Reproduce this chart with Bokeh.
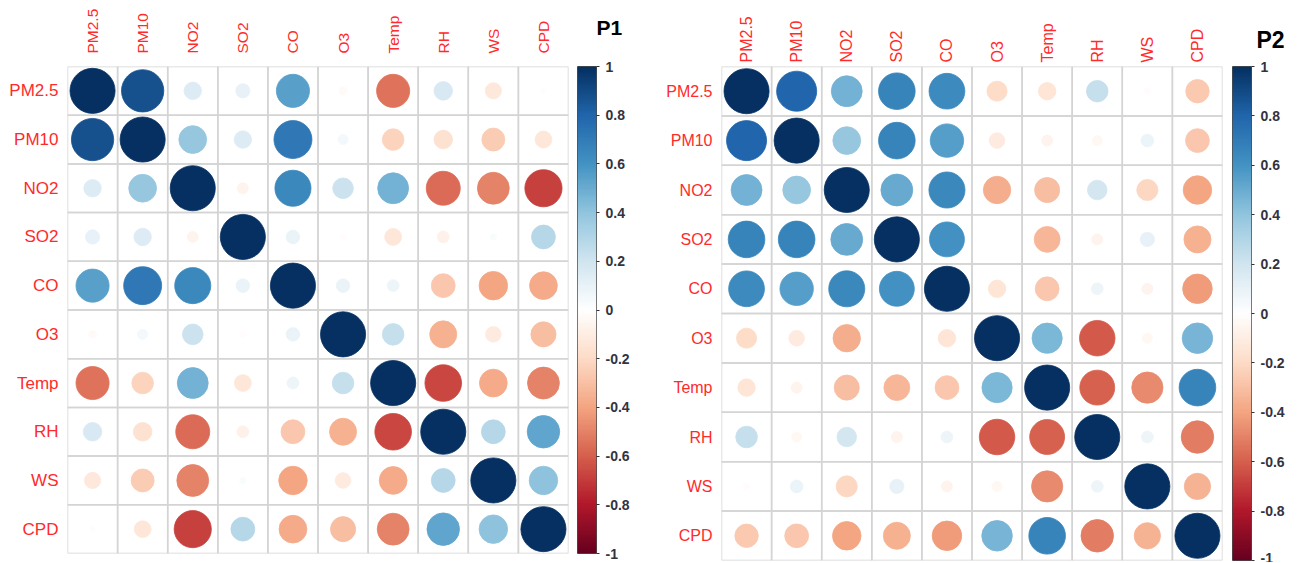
import numpy as np
from bokeh.plotting import figure
from bokeh.layouts import row
from bokeh.models import (FactorRange, Range1d, LinearColorMapper, FixedTicker,
                          CustomJSTickFormatter, ColumnDataSource)
from bokeh.embed import file_html
from bokeh.resources import INLINE

variables = ["PM2.5", "PM10", "NO2", "SO2", "CO", "O3", "Temp", "RH", "WS", "CPD"]

# ---- P1 correlation rows ----
p1_pm25 = [1.00, 0.88, 0.15, 0.10, 0.54, -0.03, -0.54, 0.17, -0.13, 0.01]
p1_pm10 = [0.88, 1.00, 0.38, 0.15, 0.71, 0.05, -0.23, -0.17, -0.26, -0.14]
p1_no2 = [0.15, 0.38, 1.00, -0.06, 0.64, 0.21, 0.47, -0.57, -0.50, -0.68]
p1_so2 = [0.10, 0.15, -0.06, 1.00, 0.09, -0.02, -0.14, -0.07, 0.02, 0.28]
p1_co = [0.54, 0.71, 0.64, 0.09, 1.00, 0.09, 0.07, -0.28, -0.40, -0.38]
p1_o3 = [-0.03, 0.05, 0.21, -0.02, 0.09, 1.00, 0.23, -0.36, -0.12, -0.31]
p1_temp = [-0.54, -0.23, 0.47, -0.14, 0.07, 0.23, 1.00, -0.66, -0.38, -0.50]
p1_rh = [0.17, -0.17, -0.57, -0.07, -0.28, -0.36, -0.66, 1.00, 0.28, 0.52]
p1_ws = [-0.13, -0.26, -0.50, 0.02, -0.40, -0.12, -0.38, 0.28, 1.00, 0.40]
p1_cpd = [0.01, -0.14, -0.68, 0.28, -0.38, -0.31, -0.50, 0.52, 0.40, 1.00]

# ---- P2 correlation rows ----
p2_pm25 = [1.00, 0.79, 0.47, 0.66, 0.63, -0.20, -0.15, 0.23, -0.02, -0.27]
p2_pm10 = [0.79, 1.00, 0.38, 0.66, 0.55, -0.12, -0.06, -0.05, 0.08, -0.28]
p2_no2 = [0.47, 0.38, 1.00, 0.50, 0.64, -0.37, -0.31, 0.19, -0.22, -0.40]
p2_so2 = [0.66, 0.66, 0.50, 1.00, 0.60, 0.00, -0.33, -0.06, 0.10, -0.36]
p2_co = [0.63, 0.55, 0.64, 0.60, 1.00, -0.15, -0.28, 0.07, -0.06, -0.43]
p2_o3 = [-0.20, -0.12, -0.37, 0.00, -0.15, 1.00, 0.45, -0.62, -0.05, 0.46]
p2_temp = [-0.15, -0.06, -0.31, -0.33, -0.28, 0.45, 1.00, -0.60, -0.48, 0.66]
p2_rh = [0.23, -0.05, 0.19, -0.06, 0.07, -0.62, -0.60, 1.00, 0.07, -0.52]
p2_ws = [-0.02, 0.08, -0.22, 0.10, -0.06, -0.05, -0.48, 0.07, 1.00, -0.34]
p2_cpd = [-0.27, -0.28, -0.40, -0.36, -0.43, 0.46, 0.66, -0.52, -0.34, 1.00]

bar_ticks = [-1, -0.8, -0.6, -0.4, -0.2, 0, 0.2, 0.4, 0.6, 0.8, 1]

rdbu_anchors = ["#67001F", "#B2182B", "#D6604D", "#F4A582", "#FDDBC7", "#FFFFFF",
                "#D1E5F0", "#92C5DE", "#4393C3", "#2166AC", "#053061"]


def ramp(anchors, n):
    rgb = np.array([[int(c[i:i + 2], 16) for i in (1, 3, 5)] for c in anchors], float)
    pos = np.linspace(0, 1, len(anchors))
    out = []
    for v in np.linspace(0, 1, n):
        ch = [int(round(np.interp(v, pos, rgb[:, k]))) for k in range(3)]
        out.append("#%02x%02x%02x" % tuple(ch))
    return out


palette = ramp(rdbu_anchors, 200)
FONT = "Liberation Sans"
LABEL_RED = "#FF2A2A"
TOP = 66


def matrix_plot(rows, fh, bl, bb, br, row_fs, col_fs, col_standoff):
    xs, ys, rs = [], [], []
    for rname, vals in zip(variables, rows):
        for cname, v in zip(variables, vals):
            xs.append(cname); ys.append(rname); rs.append(v)
    rs_arr = np.array(rs)
    src = ColumnDataSource(dict(x=xs, y=ys, r=rs, rad=list(0.45 * np.sqrt(np.abs(rs_arr)))))
    mapper = LinearColorMapper(palette=palette, low=-1, high=1)

    p = figure(x_range=FactorRange(*variables), y_range=FactorRange(*reversed(variables)),
               x_axis_location="above", frame_width=501, frame_height=fh,
               output_backend="svg", toolbar_location=None,
               min_border_left=bl, min_border_top=TOP, min_border_bottom=bb, min_border_right=br)
    p.outline_line_color = None
    p.xgrid.grid_line_color = None
    p.ygrid.grid_line_color = None
    for ax, fs, so in ((p.xaxis, col_fs, col_standoff), (p.yaxis, row_fs, 9)):
        ax.axis_line_color = None
        ax.major_tick_line_color = None
        ax.minor_tick_line_color = None
        ax.major_tick_out = 0
        ax.major_tick_in = 0
        ax.minor_tick_out = 0
        ax.minor_tick_in = 0
        ax.major_label_text_color = LABEL_RED
        ax.major_label_text_font = FONT
        ax.major_label_text_font_size = fs
        ax.major_label_standoff = so
    p.xaxis.major_label_orientation = "vertical"

    p.rect(x="x", y="y", width=1, height=1, fill_color=None, line_color="#D4D4D4",
           line_width=1.5, source=src)
    p.circle(x="x", y="y", radius="rad", source=src,
             fill_color={"field": "r", "transform": mapper},
             line_color={"field": "r", "transform": mapper}, line_width=0.8)
    return p


def colorbar_plot(title, fh, bb, br, title_fs, title_offset, title_standoff):
    mapper = LinearColorMapper(palette=palette, low=-1, high=1)
    c = figure(x_range=Range1d(0, 1), y_range=Range1d(-1, 1),
               frame_width=19, frame_height=fh, title=title,
               x_axis_location=None, y_axis_location="right",
               output_backend="svg", toolbar_location=None,
               min_border_left=0, min_border_top=TOP, min_border_bottom=bb, min_border_right=br)
    grad = np.linspace(-1, 1, 200).reshape(200, 1)
    c.image(image=[grad], x=0, y=-1, dw=1, dh=2, color_mapper=mapper)
    c.xgrid.grid_line_color = None
    c.ygrid.grid_line_color = None
    c.outline_line_color = "#4D4D4D"
    c.outline_line_width = 1
    ax = c.yaxis[0]
    ax.ticker = FixedTicker(ticks=bar_ticks)
    ax.formatter = CustomJSTickFormatter(code="return (Math.round(tick*10)/10).toString();")
    ax.axis_line_color = None
    ax.major_tick_in = 0
    ax.major_tick_out = 3
    ax.major_tick_line_color = "#333333"
    ax.minor_tick_line_color = None
    ax.minor_tick_in = 0
    ax.minor_tick_out = 0
    ax.major_label_standoff = 6
    ax.major_label_text_font = FONT
    ax.major_label_text_font_size = "14px"
    ax.major_label_text_font_style = "bold"
    ax.major_label_text_color = "#333340"
    c.title.text_font = FONT
    c.title.text_font_size = title_fs
    c.title.text_font_style = "bold"
    c.title.text_color = "black"
    c.title.align = "left"
    c.title.vertical_align = "bottom"
    c.title.offset = title_offset
    c.title.standoff = title_standoff
    return c


p1 = matrix_plot([p1_pm25, p1_pm10, p1_no2, p1_so2, p1_co, p1_o3, p1_temp, p1_rh, p1_ws, p1_cpd],
                 487, 67, 8, 9, "17px", "15.5px", 13)
c1 = colorbar_plot("P1\n", 487, 8, 54, "21px", 19, 10)
p2 = matrix_plot([p2_pm25, p2_pm10, p2_no2, p2_so2, p2_co, p2_o3, p2_temp, p2_rh, p2_ws, p2_cpd],
                 494, 71, 2, 10, "16px", "16px", 4)
c2 = colorbar_plot("P2", 494, 2, 49, "23px", 24, 28)

layout = row(p1, c1, p2, c2)
open("out.html", "w").write(file_html(layout, INLINE))
